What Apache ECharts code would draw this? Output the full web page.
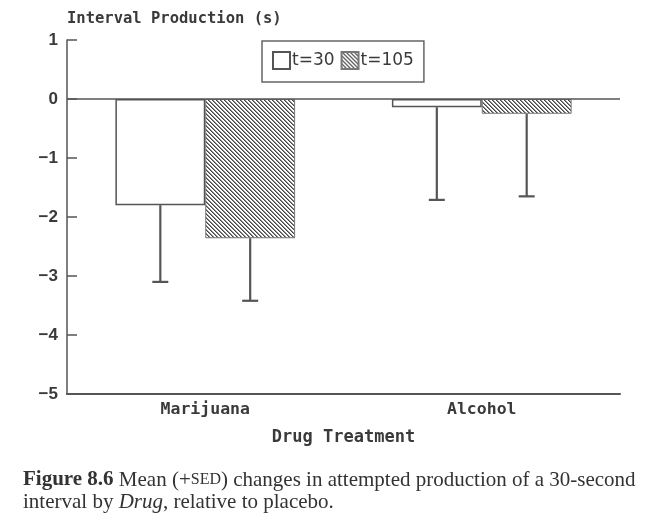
<!DOCTYPE html>
<html>
<head>
<meta charset="utf-8">
<script src="https://cdn.jsdelivr.net/npm/echarts@6/dist/echarts.min.js"></script>
<style>
html,body{margin:0;padding:0;background:#fff;}
#chart{width:658px;height:532px;}
</style>
</head>
<body>
<div id="chart"></div>
<script>
// ---- data ----
const categories = ['Marijuana', 'Alcohol'];
const seriesNames = ['t=30', 't=105'];
const t30Means = [-1.80, -0.14];
const t105Means = [-2.36, -0.25];
const t30ErrEnd = [-3.10, -1.71];
const t105ErrEnd = [-3.42, -1.65];
const yMin = -5, yMax = 1, yStep = 1;
const axisTitle = 'Interval Production (s)';
const xTitle = 'Drug Treatment';

// ---- hatch pattern ----
function makeHatch() {
  const n = 4;
  const cv = document.createElement('canvas');
  cv.width = n; cv.height = n;
  const ctx = cv.getContext('2d');
  const img = ctx.createImageData(n, n);
  for (let y = 0; y < n; y++) {
    for (let x = 0; x < n; x++) {
      const d = ((x - y) % n + n) % n;
      const v = d === 0 ? 70 : (d === 1 ? 140 : 255);
      const i = (y * n + x) * 4;
      img.data[i] = v; img.data[i+1] = v; img.data[i+2] = v; img.data[i+3] = 255;
    }
  }
  ctx.putImageData(img, 0, 0);
  return cv;
}
const hatch = { image: makeHatch(), repeat: 'repeat' };

const gapFrac = 0.35;
const lineColor = '#555';
const textColor = '#3a3a3a';
const monoFont = 'DejaVu Sans Mono';

const errData = [];
categories.forEach((c, i) => {
  errData.push([i, t30Means[i], t30ErrEnd[i], -1]);
  errData.push([i, t105Means[i], t105ErrEnd[i], 1]);
});

const chart = echarts.init(document.getElementById('chart'), null, {renderer: 'canvas'});
chart.setOption({
  animation: false,
  backgroundColor: '#fff',
  title: {
    left: 18, top: 464,
    text: '{b|Figure 8.6} Mean (+{s|SED}) changes in attempted production of a 30-second\ninterval by {i|Drug}, relative to placebo.',
    textStyle: {
      fontFamily: 'Liberation Serif', fontSize: 21, fontWeight: 'normal', color: '#333', lineHeight: 22,
      rich: {
        b: {fontFamily: 'Liberation Serif', fontSize: 21, fontWeight: 'bold', color: '#333', lineHeight: 22},
        s: {fontFamily: 'Liberation Serif', fontSize: 16, color: '#333', lineHeight: 22},
        i: {fontFamily: 'Liberation Serif', fontSize: 21, fontStyle: 'italic', color: '#333', lineHeight: 22}
      }
    }
  },
  legend: {
    data: seriesNames,
    left: 262, top: 41,
    orient: 'horizontal',
    padding: [10, 10, 12, 10],
    itemWidth: 17, itemHeight: 17, itemGap: 6,
    borderColor: '#666', borderWidth: 1.5,
    icon: 'rect',
    textStyle: {fontFamily: 'DejaVu Sans', fontSize: 17, color: textColor, padding: [0, 0, 0, -3]}
  },
  grid: {left: 67, right: 38, top: 40, bottom: 138, containLabel: false},
  xAxis: {
    type: 'category',
    data: categories,
    name: xTitle,
    nameLocation: 'middle',
    nameGap: 35,
    nameTextStyle: {fontFamily: monoFont, fontSize: 17, fontWeight: 'bold', color: textColor},
    axisLine: {onZero: false, lineStyle: {color: lineColor, width: 2}},
    axisTick: {show: false},
    axisLabel: {margin: 7, fontFamily: monoFont, fontSize: 16.5, fontWeight: 'bold', color: textColor},
    splitLine: {show: false}
  },
  yAxis: {
    type: 'value',
    min: yMin, max: yMax, interval: yStep,
    name: axisTitle,
    nameLocation: 'end',
    nameGap: 13,
    nameTextStyle: {fontFamily: monoFont, fontSize: 15.5, fontWeight: 'bold', color: textColor, align: 'left', verticalAlign: 'bottom'},
    axisLine: {show: true, lineStyle: {color: lineColor, width: 1.5}},
    axisTick: {show: true, inside: true, length: 10, lineStyle: {color: lineColor, width: 1.5}},
    axisLabel: {
      margin: 9, fontFamily: 'Liberation Sans', fontSize: 17, fontWeight: 'bold', color: textColor,
      formatter: v => (v < 0 ? '\u2212' + Math.abs(v) : String(v))
    },
    splitLine: {show: false}
  },
  series: [
    {
      name: seriesNames[0], type: 'bar', data: t30Means,
      barGap: '0%', barCategoryGap: (gapFrac * 100) + '%',
      itemStyle: {color: '#fff', borderColor: lineColor, borderWidth: 1.5},
      markLine: {
        silent: true, symbol: 'none', label: {show: false},
        lineStyle: {color: lineColor, width: 1.5, type: 'solid'},
        data: [{yAxis: 0}]
      }
    },
    {
      name: seriesNames[1], type: 'bar', data: t105Means,
      barGap: '0%', barCategoryGap: (gapFrac * 100) + '%',
      itemStyle: {color: hatch, borderColor: '#777', borderWidth: 1}
    },
    {
      type: 'custom',
      silent: true,
      data: errData,
      z: 5,
      renderItem: function (params, api) {
        const cat = api.value(0);
        const top = api.coord([cat, api.value(1)]);
        const end = api.coord([cat, api.value(2)]);
        const band = api.size([1, 0])[0];
        const bw = band * (1 - gapFrac) / 2;
        const x = top[0] + api.value(3) * bw / 2;
        const cap = 8;
        const st = {stroke: lineColor, lineWidth: 2.2};
        return {
          type: 'group',
          children: [
            {type: 'line', shape: {x1: x, y1: top[1], x2: x, y2: end[1]}, style: st},
            {type: 'line', shape: {x1: x - cap, y1: end[1], x2: x + cap, y2: end[1]}, style: st}
          ]
        };
      }
    }
  ]
});
</script>
</body>
</html>
